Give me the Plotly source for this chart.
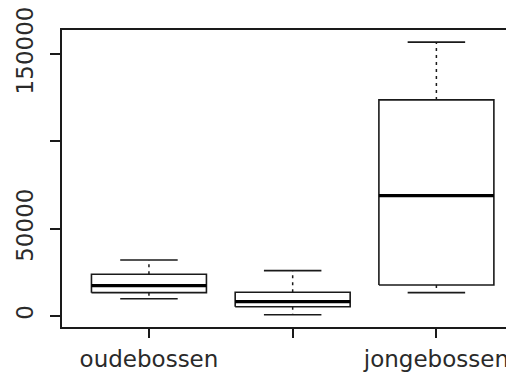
import plotly.graph_objects as go

# Data
positions = [1, 2, 3]
tick_labels = ["oudebossen", "", "jongebossen"]
lower = [9900, 750, 13350]
q1 = [13350, 5330, 17750]
median = [17360, 8200, 68900]
q3 = [23900, 13570, 123700]
upper = [32070, 25950, 156760]
y_ticks = [0, 50000, 100000, 150000]
y_ticktext = ["0", "50000", "", "150000"]

BOX_W = 0.8
CAP_W = 0.4
LINE = "#1a1a1a"

fig = go.Figure()
for p, lo, a, m, b, hi in zip(positions, lower, q1, median, q3, upper):
    # box
    fig.add_trace(go.Scatter(
        x=[p - BOX_W / 2, p + BOX_W / 2, p + BOX_W / 2, p - BOX_W / 2, p - BOX_W / 2],
        y=[a, a, b, b, a], mode="lines", fill="toself", fillcolor="white",
        line=dict(color=LINE, width=1.6), hoverinfo="skip", showlegend=False))
    # median
    fig.add_trace(go.Scatter(
        x=[p - BOX_W / 2, p + BOX_W / 2], y=[m, m], mode="lines",
        line=dict(color="black", width=3.2), hoverinfo="skip", showlegend=False))
    # whiskers (dashed)
    fig.add_trace(go.Scatter(
        x=[p, p, None, p, p], y=[b, hi, None, a, lo], mode="lines",
        line=dict(color=LINE, width=1.5, dash="3px,4px"), hoverinfo="skip", showlegend=False))
    # caps
    fig.add_trace(go.Scatter(
        x=[p - CAP_W / 2, p + CAP_W / 2, None, p - CAP_W / 2, p + CAP_W / 2],
        y=[hi, hi, None, lo, lo], mode="lines",
        line=dict(color=LINE, width=1.6), hoverinfo="skip", showlegend=False))

# page body has an 8px margin, so the figure is offset by (8, 8)
fig.update_layout(
    width=506, height=366,
    margin=dict(l=54, r=0, t=22, b=47),
    paper_bgcolor="white", plot_bgcolor="white",
    font=dict(family="DejaVu Sans", size=22, color="#2a2a2a"),
    xaxis=dict(range=[0.395, 3.54], tickvals=positions, ticktext=tick_labels,
               automargin=False, tickfont=dict(size=23), ticklabeloverflow="allow",
               showgrid=False, zeroline=False, showline=True, mirror=True,
               linecolor=LINE, linewidth=1.6, ticks="outside", ticklen=9,
               tickwidth=1.5, tickcolor=LINE, ticklabelstandoff=2),
    yaxis=dict(range=[-6300, 163700], tickvals=y_ticks, ticktext=y_ticktext,
               automargin=False, tickfont=dict(size=23), ticklabeloverflow="allow",
               tickangle=-90, showgrid=False, zeroline=False, showline=True,
               linecolor=LINE, linewidth=1.6, ticks="outside", ticklen=10,
               tickwidth=1.5, tickcolor=LINE, ticklabelstandoff=8),
)

fig.write_html("out.html")
